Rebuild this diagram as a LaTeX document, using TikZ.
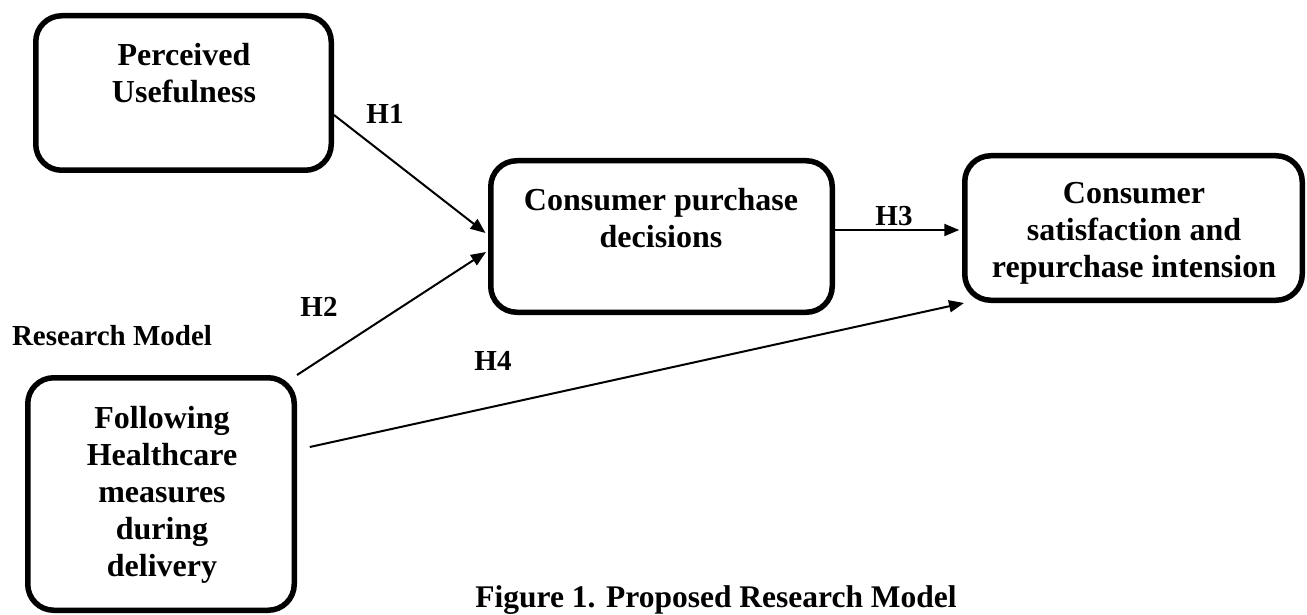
\documentclass[tikz,border=0pt]{standalone}
\usepackage{fontspec}
\setmainfont{Liberation Serif}
\usetikzlibrary{arrows.meta}
\begin{document}
\begin{tikzpicture}[x=1pt,y=-1pt,
  box/.style={draw, rounded corners=26pt, line width=5.5pt, inner sep=0pt},
  txt/.style={font=\bfseries\fontsize{32}{37}\selectfont, align=center, inner sep=0pt},
  lbl/.style={font=\bfseries\fontsize{29}{34}\selectfont, inner sep=0pt},
  arr/.style={line width=2pt, -{Triangle[length=15pt,width=12pt]}}]
\useasboundingbox (0,0) rectangle (1307,615);
% boxes
\node[box, minimum width=295.5pt, minimum height=154.5pt] (pu) at (183.5,93) {};
\node[box, minimum width=341.5pt, minimum height=151.5pt] (cpd) at (661.5,236.5) {};
\node[box, minimum width=337.5pt, minimum height=144.5pt] (sat) at (1133.5,228) {};
\node[box, minimum width=266.5pt, minimum height=232.5pt] (fol) at (161,494) {};
% box texts
\node[txt] (pu-t) at (184,73) {Perceived\\Usefulness};
\node[txt] (cpd-t) at (661,218) {Consumer purchase\\decisions};
\node[txt] (sat-t) at (1134,233) {Consumer\\satisfaction and\\repurchase intension};
\node[txt] (fol-t) at (162,495) {Following\\Healthcare\\measures\\during\\delivery};
% labels
\node[lbl] (h1) at (385,114) {H1};
\node[lbl] (h2) at (319,307) {H2};
\node[lbl] (h3) at (894,216) {H3};
\node[lbl] (h4) at (493,361) {H4};
\node[lbl] (rm) at (112,336) {Research Model};
\node[font=\bfseries\fontsize{31.5}{36}\selectfont, inner sep=0pt] (cap) at (716,600) {Figure 1. Proposed Research Model};
% connectors
\draw[arr] ([yshift=-22pt]pu.east) -- ([shift={(-2.5pt,3.5pt)}]cpd.west);
\draw[arr] (fol.north east) -- ([shift={(-2pt,-15.5pt)}]cpd.west);
\draw[arr] ([yshift=6.5pt]cpd.east) -- ([shift={(-2.75pt,-2pt)}]sat.west);
\draw[arr] ([shift={(12.75pt,47pt)}]fol.east) -- ([xshift=2pt]sat.south west);
\end{tikzpicture}
\end{document}
